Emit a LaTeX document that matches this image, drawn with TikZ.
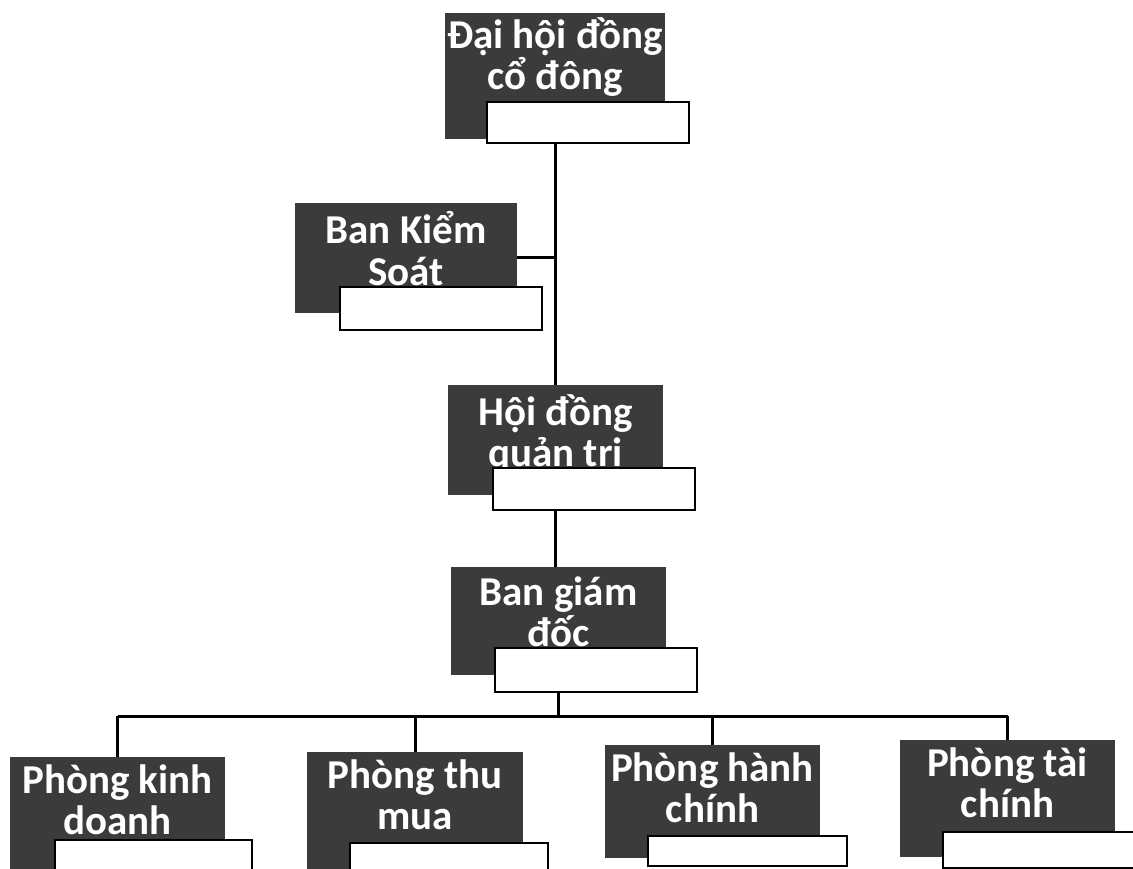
\documentclass[tikz,border=0pt]{standalone}
\usepackage{fontspec}
\setmainfont{Carlito}
\definecolor{boxgray}{HTML}{3B3B3B}
\pgfdeclarelayer{back}
\pgfdeclarelayer{bg}
\pgfsetlayers{back,bg,main}
\tikzset{
  darkbox/.style={rectangle, fill=boxgray, draw=none, inner sep=0pt, outer sep=0pt, anchor=north west},
  whitebox/.style={rectangle, fill=white, draw=black, line width=2.5pt, inner sep=0pt, outer sep=0pt, anchor=north west},
  lbl/.style={text=white, font=\bfseries\fontsize{41}{41}\selectfont, align=center, anchor=base, inner sep=0pt},
  conn/.style={line width=3pt, draw=black},
}
\begin{document}
\begin{tikzpicture}[x=1pt,y=-1pt]
\useasboundingbox (0,0) rectangle (1133,869);
\begin{pgfonlayer}{back}
\fill[white] (0,0) rectangle (1133,869);
\end{pgfonlayer}
\clip (0,0) rectangle (1133,869);
% top
\node[darkbox, minimum width=220pt, minimum height=126pt] (dh) at (445,13) {};
\node[lbl] (dht) at ([yshift=-77pt]dh.north) {Đại hội đồng\\cổ đông};
\node[whitebox, minimum width=202pt, minimum height=41pt] (dhw) at (487,102) {};
% ban kiem soat
\node[darkbox, minimum width=222pt, minimum height=110pt] (bks) at (295,203) {};
\node[lbl] (bkst) at ([yshift=-82pt]bks.north) {Ban Kiểm\\Soát};
\node[whitebox, minimum width=202pt, minimum height=43pt] (bksw) at (340,287) {};
% hoi dong quan tri
\node[darkbox, minimum width=215pt, minimum height=110pt] (hd) at (448,385) {};
\node[lbl] (hdt) at ([yshift=-81pt]hd.north) {Hội đồng\\quản trị};
\node[whitebox, minimum width=202pt, minimum height=42pt] (hdw) at (493,468) {};
% ban giam doc
\node[darkbox, minimum width=215pt, minimum height=108pt] (bg) at (451,567) {};
\node[lbl] (bgt) at ([yshift=-79pt]bg.north) {Ban giám\\đốc};
\node[whitebox, minimum width=202pt, minimum height=44pt] (bgw) at (495,648) {};
% bottom row
\node[darkbox, minimum width=215pt, minimum height=118pt] (p1) at (10,757) {};
\node[lbl] (p1t) at ([yshift=-77pt]p1.north) {Phòng kinh\\doanh};
\node[whitebox, minimum width=197pt, minimum height=45pt] (p1w) at (55,840) {};
\node[darkbox, minimum width=216pt, minimum height=118pt] (p2) at (307,752) {};
\node[lbl] (p2t) at ([yshift=-77pt]p2.north) {Phòng thu\\mua};
\node[whitebox, minimum width=198pt, minimum height=40pt] (p2w) at (350,843) {};
\node[darkbox, minimum width=215pt, minimum height=113pt] (p3) at (605,745) {};
\node[lbl] (p3t) at ([yshift=-77pt]p3.north) {Phòng hành\\chính};
\node[whitebox, minimum width=199pt, minimum height=30pt] (p3w) at (648,836) {};
\node[darkbox, minimum width=215pt, minimum height=117pt] (p4) at (900,740) {};
\node[lbl] (p4t) at ([yshift=-77pt]p4.north) {Phòng tài\\chính};
\node[whitebox, minimum width=200pt, minimum height=36pt] (p4w) at (943,832) {};
\coordinate (bus) at (0,716);
\begin{pgfonlayer}{bg}
\draw[conn] (dh.south) -- (dh.south |- hd.north);
\draw[conn] (bks.east) -- (bks.east -| dh.south);
\draw[conn] (hd.south) -- (hd.south |- bg.north);
\draw[conn] (bg.south) -- (bg.south |- bus);
\draw[conn] (p1.north |- bus) -- (p4.north |- bus);
\draw[conn] (p1.north |- bus) -- (p1.north);
\draw[conn] (p2.north |- bus) -- (p2.north);
\draw[conn] (p3.north |- bus) -- (p3.north);
\draw[conn] (p4.north |- bus) -- (p4.north);
\end{pgfonlayer}
\end{tikzpicture}
\end{document}
